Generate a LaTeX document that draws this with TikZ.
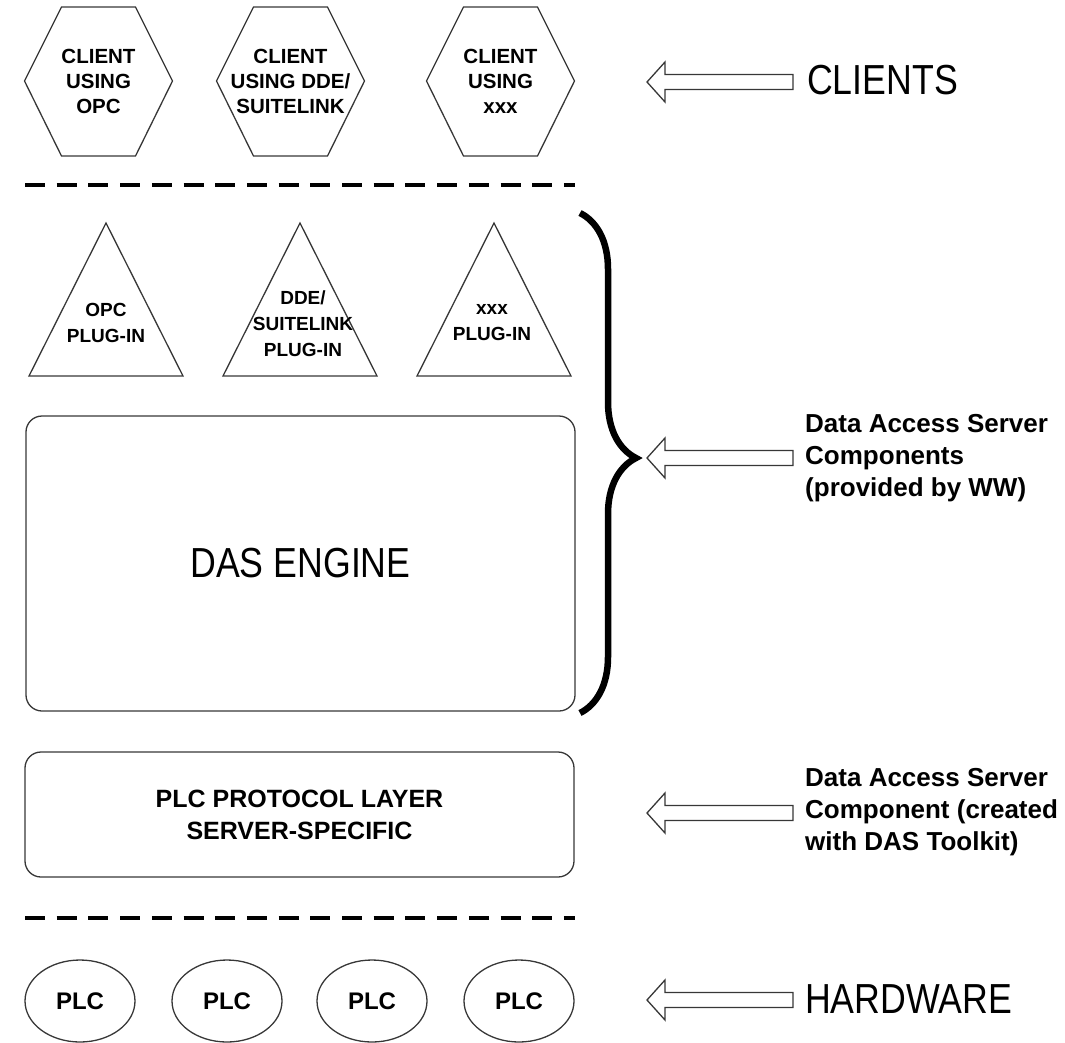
\documentclass[tikz,border=0pt]{standalone}
\usepackage{fontspec}
\setmainfont{Liberation Sans}
\newfontfamily\condfont[FakeStretch=0.85]{Liberation Sans}
\usepackage{tikz}
\usetikzlibrary{shapes.geometric, decorations.pathreplacing, positioning}
\definecolor{edgegray}{RGB}{55, 55, 55}

\begin{document}
\begin{tikzpicture}[x=1pt, y=-1pt,
    outline/.style={draw=edgegray, line width=1.3pt},
    hextext/.style={align=center, font=\fontsize{20.5}{25}\selectfont\bfseries},
    plugtext/.style={align=center, font=\fontsize{19}{26}\selectfont\bfseries},
    layerbox/.style={outline, rectangle, rounded corners=16pt, minimum width=549pt, inner sep=0pt},
    plcnode/.style={outline, ellipse, minimum width=110pt, minimum height=82pt, inner sep=0pt, font=\fontsize{24}{28}\selectfont\bfseries},
    sepline/.style={line width=3.5pt, dash pattern=on 20pt off 11.7pt},
    bigbrace/.style={decorate, decoration={brace, amplitude=56pt, aspect=0.49}, line width=6.5pt},
    hollowarrow/.style={draw=edgegray, line width=1.3pt, fill=white},
    tierlabel/.style={anchor=west, inner sep=0pt, font=\condfont\fontsize{42}{48}\selectfont},
    notelabel/.style={anchor=west, inner sep=0pt, align=left, font=\fontsize{26}{32}\selectfont\bfseries}
]
    \useasboundingbox (0,0) rectangle (1065,1042);

    % Clients (hexagons)
    \foreach \x/\nm/\txt in {98.5/opc/{CLIENT\\USING\\OPC}, 290.5/dde/{CLIENT\\USING DDE/\\SUITELINK}, 500.5/xxx/{CLIENT\\USING\\xxx}} {
        \draw[outline] (\x-74,81) -- (\x-37,7) -- (\x+37,7) -- (\x+74,81) -- (\x+37,156) -- (\x-37,156) -- cycle;
        \node[hextext] (client-\nm) at (\x,81) {\txt};
    }

    % Separator below the clients
    \coordinate (sepA-left) at (25,185);
    \coordinate (sepA-right) at (575,185);
    \draw[sepline] (sepA-left) -- (sepA-right);

    % Plug-ins (triangles)
    \foreach \x in {106, 300, 494} {
        \draw[outline] (\x,223) -- (\x+77,376) -- (\x-77,376) -- cycle;
    }
    \node[plugtext] (plug-opc) at (106,323) {OPC\\PLUG-IN};
    \node[plugtext] (plug-dde) at (303,323.5) {DDE/\\SUITELINK\\PLUG-IN};
    \node[plugtext] (plug-xxx) at (492,323) {xxx\\PLUG-IN};

    % The engine
    \node[layerbox, minimum height=295pt, font=\condfont\fontsize{42}{48}\selectfont] (engine) at (300.5,563.5) {DAS ENGINE};

    % Brace round the server components
    \coordinate (brace-top) at (580,213);
    \coordinate (brace-bottom) at (580,713);
    \draw[bigbrace] (brace-top) -- (brace-bottom);

    % Protocol layer
    \node[layerbox, minimum height=125pt, align=center, font=\fontsize{25}{32}\selectfont\bfseries] (protocol) at (299.5,814.5) {PLC PROTOCOL LAYER\\SERVER-SPECIFIC};

    % Separator above the hardware
    \coordinate (sepB-left) at (25,918);
    \coordinate (sepB-right) at (575,918);
    \draw[sepline] (sepB-left) -- (sepB-right);

    % Hardware
    \foreach \x [count=\i] in {80, 227, 372, 519} {
        \node[plcnode] (plc\i) at (\x,1001) {PLC};
    }

    % Hollow arrows
    \foreach \y in {82, 458, 813, 1000} {
        \draw[hollowarrow] (647,\y) -- (665,\y-20) -- (665,\y-7.5) -- (793,\y-7.5) -- (793,\y+7.5) -- (665,\y+7.5) -- (665,\y+20) -- cycle;
    }

    % Labels
    \node[tierlabel] (clients) at (807,80) {CLIENTS};
    \node[notelabel] (das-note) at (805,458) {Data Access Server\\Components\\(provided by WW)};
    \node[notelabel] (toolkit-note) at (805,812) {Data Access Server\\Component (created\\with DAS Toolkit)};
    \node[tierlabel] (hardware) at (805,999) {HARDWARE};
\end{tikzpicture}
\end{document}
